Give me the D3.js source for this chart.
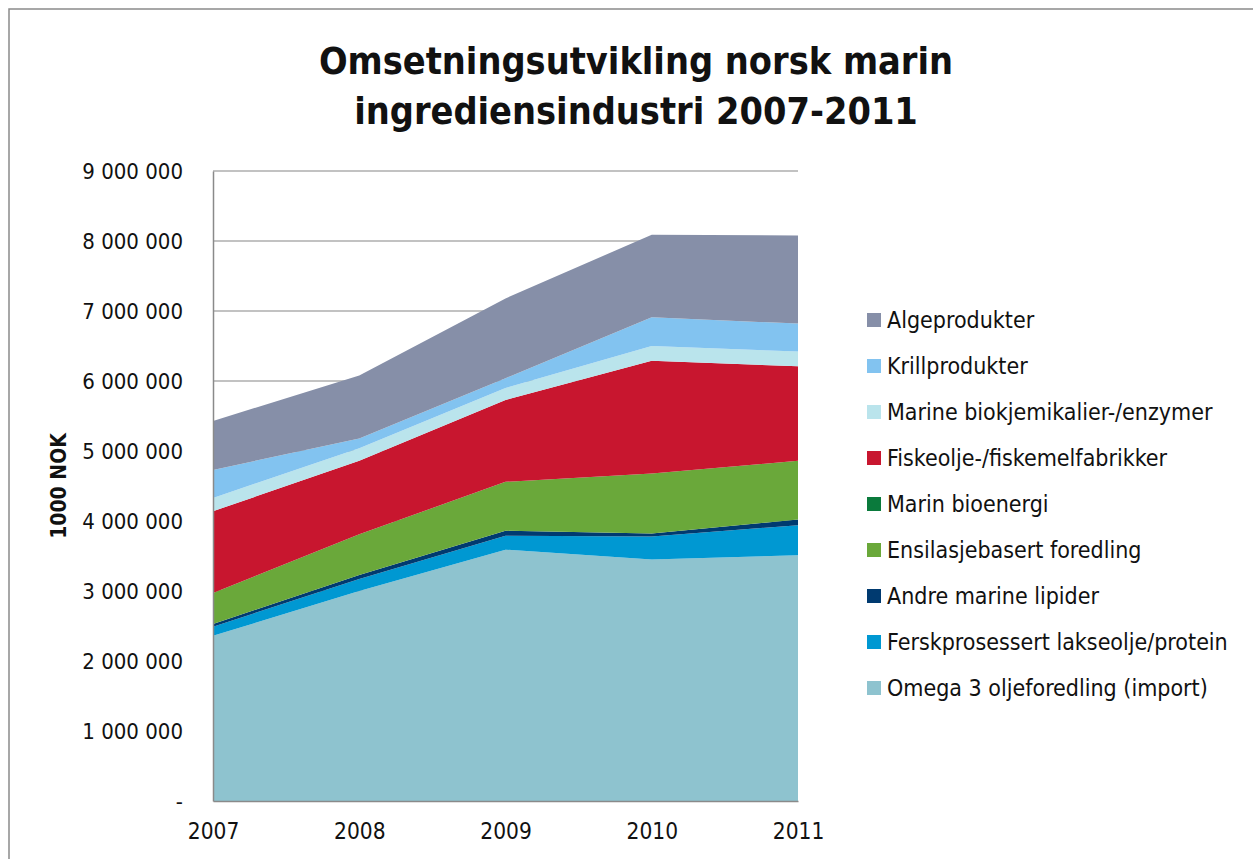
<!DOCTYPE html>
<html>
<head>
<meta charset="utf-8">
<script src="https://cdn.jsdelivr.net/npm/d3@7"></script>
<style>
  body { margin: 0; background: white; }
  text { font-family: "DejaVu Sans Condensed", "DejaVu Sans", sans-serif; }
</style>
</head>
<body>
<script>

const years = ['2007', '2008', '2009', '2010', '2011']

// values in 1000 NOK, stacked from bottom to top
const omega3 = [2360000, 3000000, 3590000, 3450000, 3510000]
const ferskprosessert = [130000, 170000, 200000, 330000, 430000]
const andreLipider = [40000, 60000, 70000, 40000, 80000]
const ensilasje = [440000, 580000, 700000, 860000, 840000]
const marinBioenergi = [0, 0, 0, 0, 0]
const fiskeolje = [1170000, 1050000, 1170000, 1610000, 1350000]
const biokjemikalier = [190000, 180000, 170000, 210000, 210000]
const krill = [400000, 140000, 140000, 410000, 400000]
const alge = [700000, 900000, 1140000, 1180000, 1260000]

const yTicks = [0, 1000000, 2000000, 3000000, 4000000, 5000000, 6000000, 7000000, 8000000, 9000000]

const series = [
    {key: 'omega3', name: 'Omega 3 oljeforedling (import)', color: '#8ec3cf', values: omega3},
    {key: 'fersk', name: 'Ferskprosessert lakseolje/protein', color: '#0098d2', values: ferskprosessert},
    {key: 'andre', name: 'Andre marine lipider', color: '#003a70', values: andreLipider},
    {key: 'ensil', name: 'Ensilasjebasert foredling', color: '#6aa83a', values: ensilasje},
    {key: 'bioenergi', name: 'Marin bioenergi', color: '#0a7a3c', values: marinBioenergi},
    {key: 'fisk', name: 'Fiskeolje-/fiskemelfabrikker', color: '#c8162f', values: fiskeolje},
    {key: 'biokj', name: 'Marine biokjemikalier-/enzymer', color: '#bae4ec', values: biokjemikalier},
    {key: 'krill', name: 'Krillprodukter', color: '#82c3f0', values: krill},
    {key: 'alge', name: 'Algeprodukter', color: '#868fa8', values: alge}
]

const width = 1253
const height = 859
const plot = {left: 213, right: 798, top: 171, bottom: 801}
const labelFont = '"DejaVu Sans Condensed", "DejaVu Sans", sans-serif'

const svg = d3.select('body').append('svg')
    .attr('width', width)
    .attr('height', height)

svg.append('rect')
    .attr('x', 9).attr('y', 9)
    .attr('width', width).attr('height', height)
    .attr('fill', 'white')
    .attr('stroke', '#8a8a8a')
    .attr('stroke-width', 1.5)

// title
const title = svg.append('text')
    .attr('text-anchor', 'middle')
    .style('font-size', '37.5px')
    .style('font-weight', 'bold')
    .attr('fill', '#111')
title.append('tspan').attr('x', 636).attr('y', 74).text('Omsetningsutvikling norsk marin')
title.append('tspan').attr('x', 636).attr('y', 124).text('ingrediensindustri 2007-2011')

const x = d3.scalePoint()
    .domain(years)
    .range([plot.left, plot.right])

const y = d3.scaleLinear()
    .domain([0, 9000000])
    .range([plot.bottom, plot.top])

// gridlines
svg.append('g')
    .selectAll('line')
    .data(yTicks.slice(1))
    .join('line')
    .attr('x1', plot.left).attr('x2', plot.right)
    .attr('y1', d => y(d)).attr('y2', d => y(d))
    .attr('stroke', '#868686')
    .attr('stroke-width', 1.2)

// stacked areas
const table = years.map((yr, i) => {
    const row = {year: yr}
    series.forEach(s => { row[s.key] = s.values[i] })
    return row
})

const stack = d3.stack().keys(series.map(s => s.key))
const layers = stack(table)

const area = d3.area()
    .x(d => x(d.data.year))
    .y0(d => y(d[0]))
    .y1(d => y(d[1]))

svg.append('g')
    .selectAll('path')
    .data(layers)
    .join('path')
    .attr('d', area)
    .attr('fill', (d, i) => series[i].color)

// axes
const fmt = v => v === 0 ? '-' : d3.format(',')(v).replace(/,/g, ' ')

const yAxis = svg.append('g')
    .attr('transform', `translate(${plot.left},0)`)
    .call(d3.axisLeft(y).tickValues(yTicks).tickFormat(fmt).tickSize(0).tickPadding(30))
yAxis.select('.domain').attr('stroke', '#8a8a8a').attr('stroke-width', 1.5)
yAxis.selectAll('text')
    .style('font-size', '22px')
    .style('font-family', labelFont)
    .attr('fill', '#111')

const xAxis = svg.append('g')
    .attr('transform', `translate(0,${plot.bottom})`)
    .call(d3.axisBottom(x).tickSize(0).tickPadding(22))
xAxis.select('.domain').attr('stroke', '#8a8a8a').attr('stroke-width', 1.5)
xAxis.selectAll('text')
    .style('font-size', '22.5px')
    .style('font-family', labelFont)
    .attr('fill', '#111')

// y axis title
svg.append('text')
    .attr('transform', 'translate(66,486) rotate(-90)')
    .attr('text-anchor', 'middle')
    .style('font-size', '21px')
    .style('font-weight', 'bold')
    .attr('fill', '#111')
    .text('1000 NOK')

// legend, top to bottom in reverse stacking order
const legend = svg.append('g')
    .selectAll('g')
    .data(series.slice().reverse())
    .join('g')
    .attr('transform', (d, i) => `translate(867,${320 + i * 46})`)

legend.append('rect')
    .attr('x', 0).attr('y', -7)
    .attr('width', 14).attr('height', 14)
    .attr('fill', d => d.color)

legend.append('text')
    .attr('x', 20)
    .attr('y', 8)
    .style('font-size', '23px')
    .attr('fill', '#111')
    .text(d => d.name)

</script>
</body>
</html>
